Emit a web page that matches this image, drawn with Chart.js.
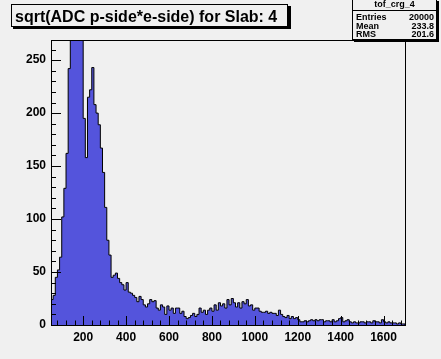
<!DOCTYPE html>
<html>
<head>
<meta charset="utf-8">
<script src="https://cdn.jsdelivr.net/npm/chart.js@4.4.1/dist/chart.umd.min.js"></script>
<style>
  html, body { margin: 0; padding: 0; background: #f0f0f0; }
  canvas { display: block; }
</style>
</head>
<body>
<canvas id="histo" width="441" height="359"></canvas>
<script>
// Histogramme tof_crg_4 : sqrt(ADC p-side*e-side), bins de 10 entre 50 et 1700
const titleText = 'sqrt(ADC p-side*e-side) for Slab: 4';
const histName = 'tof_crg_4';
const statLabels = ['Entries', 'Mean', 'RMS'];
const statValues = ['20000', '233.8', '201.6'];

const xMin = 50;
const xMax = 1700;
const binWidth = 10;
const yMax = 269;

// contenus des bins (le pic au-dessus de 269 est coupé)
const counts = [
  24, 28, 45, 52, 64, 102, 129, 162, 242, 900,
  1500, 2100, 2500, 2600, 2300, 195, 158, 215, 222, 243,
  208, 200, 189, 167, 144, 111, 80, 66, 45, 47,
  49, 44, 40, 38, 33, 40, 31, 30, 28, 26,
  22, 27, 24, 19, 17, 20, 24, 22, 23, 16,
  14, 19, 17, 10, 18, 14, 16, 11, 16, 16,
  11, 13, 8, 6, 7, 9, 11, 8, 10, 16,
  12, 14, 10, 14, 16, 13, 19, 14, 21, 18,
  20, 16, 24, 19, 25, 21, 17, 21, 16, 22,
  20, 24, 18, 19, 14, 16, 16, 13, 12, 12,
  13, 11, 12, 11, 11, 9, 14, 10, 8, 7,
  9, 6, 8, 6, 7, 5, 3, 3, 4, 3,
  4, 5, 4, 5, 4, 5, 5, 3, 4, 4,
  3, 5, 3, 4, 6, 7, 3, 4, 5, 3,
  2, 3, 2, 2, 3, 3, 2, 3, 3, 2,
  4, 3, 3, 2, 5, 3, 2, 3, 2, 2,
  2, 1, 2, 1, 1
];

const xTicks = [200, 400, 600, 800, 1000, 1200, 1400, 1600];
const xMinorTicks = [80, 120, 160, 240, 280, 320, 360, 440, 480, 520, 560, 640, 680, 720, 760,
  840, 880, 920, 960, 1040, 1080, 1120, 1160, 1240, 1280, 1320, 1360, 1440, 1480, 1520, 1560, 1640, 1680];
const yTicks = [0, 50, 100, 150, 200, 250];
const yMinorTicks = [10, 20, 30, 40, 60, 70, 80, 90, 110, 120, 130, 140, 160, 170, 180, 190,
  210, 220, 230, 240, 260];

const bgColor = '#f0f0f0';
const fillColor = 'rgb(84, 84, 220)';
const fontFamily = '"Liberation Sans", Arial, Helvetica, sans-serif';

// points du contour en escalier (bord gauche de chaque bin)
const histPoints = [{ x: xMin, y: 0 }];
counts.forEach((c, i) => histPoints.push({ x: xMin + i * binWidth, y: c }));
histPoints.push({ x: xMax, y: counts[counts.length - 1] });
histPoints.push({ x: xMax, y: 0 });

// style ROOT : fond gris, cadre, graduations vers l'intérieur, boîtes titre/stats
const rootStyle = {
  id: 'rootStyle',
  beforeDraw(chart) {
    const ctx = chart.ctx;
    ctx.save();
    ctx.fillStyle = bgColor;
    ctx.fillRect(0, 0, chart.width, chart.height);
    ctx.restore();
  },
  afterDatasetsDraw(chart) {
    const ctx = chart.ctx;
    const area = chart.chartArea;
    const xs = chart.scales.x;
    const ys = chart.scales.y;
    ctx.save();
    ctx.strokeStyle = '#000';
    ctx.lineWidth = 1;
    ctx.beginPath();
    xTicks.forEach(v => {
      const px = Math.round(xs.getPixelForValue(v)) + 0.5;
      ctx.moveTo(px, area.bottom);
      ctx.lineTo(px, area.bottom - 9);
    });
    xMinorTicks.forEach(v => {
      const px = Math.round(xs.getPixelForValue(v)) + 0.5;
      ctx.moveTo(px, area.bottom);
      ctx.lineTo(px, area.bottom - 4.5);
    });
    yTicks.forEach(v => {
      const py = Math.round(ys.getPixelForValue(v)) + 0.5;
      ctx.moveTo(area.left, py);
      ctx.lineTo(area.left + 10, py);
    });
    yMinorTicks.forEach(v => {
      const py = Math.round(ys.getPixelForValue(v)) + 0.5;
      ctx.moveTo(area.left, py);
      ctx.lineTo(area.left + 5, py);
    });
    ctx.stroke();
    ctx.strokeRect(area.left + 0.5, area.top + 0.5, area.right - area.left, area.bottom - area.top);
    ctx.restore();
  },
  afterDraw(chart) {
    const ctx = chart.ctx;
    ctx.save();

    // boîte du titre
    ctx.fillStyle = '#000';
    ctx.fillRect(13, 6, 278, 23);
    ctx.fillStyle = bgColor;
    ctx.fillRect(11, 4, 277, 23);
    ctx.strokeStyle = '#000';
    ctx.lineWidth = 1;
    ctx.strokeRect(11.5, 4.5, 276, 22);
    ctx.fillStyle = '#000';
    ctx.font = 'bold 16px ' + fontFamily;
    ctx.textBaseline = 'alphabetic';
    ctx.textAlign = 'left';
    ctx.fillText(titleText, 15, 22);

    // boîte des statistiques
    ctx.fillStyle = '#000';
    ctx.fillRect(354, 1, 85, 41);
    ctx.fillStyle = bgColor;
    ctx.fillRect(352, -1, 85, 41);
    ctx.strokeRect(352.5, -0.5, 84, 40);
    ctx.beginPath();
    ctx.moveTo(352, 10.5);
    ctx.lineTo(437, 10.5);
    ctx.stroke();
    ctx.fillStyle = '#000';
    ctx.font = 'bold 9px ' + fontFamily;
    ctx.textAlign = 'center';
    ctx.fillText(histName, 394.5, 7);
    statLabels.forEach((lab, i) => {
      const y = 20 + i * 8.5;
      ctx.textAlign = 'left';
      ctx.fillText(lab, 356, y);
      ctx.textAlign = 'right';
      ctx.fillText(statValues[i], 434, y);
    });
    ctx.restore();
  }
};

new Chart(document.getElementById('histo').getContext('2d'), {
  type: 'line',
  data: {
    datasets: [{
      data: histPoints,
      stepped: true,
      fill: 'origin',
      backgroundColor: fillColor,
      borderColor: '#000',
      borderWidth: 1,
      pointRadius: 0,
      tension: 0,
      clip: 0
    }]
  },
  options: {
    responsive: false,
    animation: false,
    events: [],
    layout: { padding: { top: 40, right: 36, left: 0, bottom: 0 } },
    plugins: {
      legend: { display: false },
      tooltip: { enabled: false }
    },
    scales: {
      x: {
        type: 'linear',
        min: xMin,
        max: xMax,
        grid: { display: false, drawTicks: false },
        border: { display: false },
        afterBuildTicks: s => { s.ticks = xTicks.map(v => ({ value: v })); },
        afterFit: s => { s.height = 34; },
        ticks: {
          color: '#000',
          padding: 5,
          maxRotation: 0,
          autoSkip: false,
          callback: v => String(v),
          font: { family: fontFamily, size: 12, weight: 'bold' }
        }
      },
      y: {
        min: 0,
        max: yMax,
        grid: { display: false, drawTicks: false },
        border: { display: false },
        afterBuildTicks: s => { s.ticks = yTicks.map(v => ({ value: v })); },
        afterFit: s => { s.width = 51; },
        ticks: {
          color: '#000',
          padding: 5,
          callback: v => String(v),
          font: { family: fontFamily, size: 12, weight: 'bold' }
        }
      }
    }
  },
  plugins: [rootStyle]
});
</script>
</body>
</html>
